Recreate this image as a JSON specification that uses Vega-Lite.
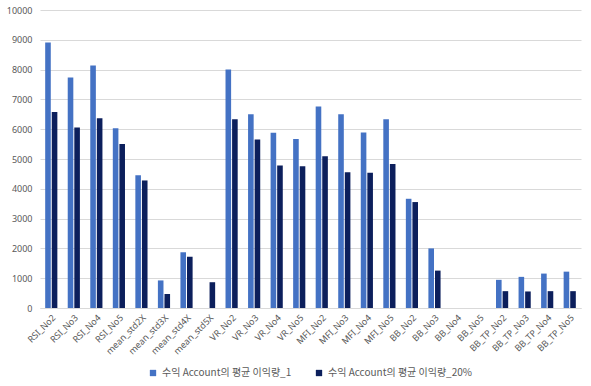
{
  "$schema": "https://vega.github.io/schema/vega-lite/v6.json",
  "width": 591,
  "height": 386,
  "autosize": {"type": "fit", "contains": "padding"},
  "padding": {"left": 6, "top": 6, "right": 10, "bottom": 8},
  "background": "#ffffff",
  "config": {
    "view": {"stroke": null},
    "font": "Noto Sans",
    "axis": {"labelColor": "#595959", "labelFontSize": 9, "labelFont": "Noto Sans"},
    "legend": {"layout": {"bottom": {"anchor": "middle"}}}
  },
  "data": {
    "values": [
      {"cat": "RSI_No2", "s": "수익 Account의 평균 이익량_1", "v": 8910},
      {"cat": "RSI_No2", "s": "수익 Account의 평균 이익량_20%", "v": 6580},
      {"cat": "RSI_No3", "s": "수익 Account의 평균 이익량_1", "v": 7735},
      {"cat": "RSI_No3", "s": "수익 Account의 평균 이익량_20%", "v": 6055},
      {"cat": "RSI_No4", "s": "수익 Account의 평균 이익량_1", "v": 8135},
      {"cat": "RSI_No4", "s": "수익 Account의 평균 이익량_20%", "v": 6365},
      {"cat": "RSI_No5", "s": "수익 Account의 평균 이익량_1", "v": 6035},
      {"cat": "RSI_No5", "s": "수익 Account의 평균 이익량_20%", "v": 5500},
      {"cat": "mean_std2X", "s": "수익 Account의 평균 이익량_1", "v": 4455},
      {"cat": "mean_std2X", "s": "수익 Account의 평균 이익량_20%", "v": 4280},
      {"cat": "mean_std3X", "s": "수익 Account의 평균 이익량_1", "v": 925},
      {"cat": "mean_std3X", "s": "수익 Account의 평균 이익량_20%", "v": 470},
      {"cat": "mean_std4X", "s": "수익 Account의 평균 이익량_1", "v": 1870},
      {"cat": "mean_std4X", "s": "수익 Account의 평균 이익량_20%", "v": 1720},
      {"cat": "mean_std5X", "s": "수익 Account의 평균 이익량_1", "v": 0},
      {"cat": "mean_std5X", "s": "수익 Account의 평균 이익량_20%", "v": 865},
      {"cat": "VR_No2", "s": "수익 Account의 평균 이익량_1", "v": 8000},
      {"cat": "VR_No2", "s": "수익 Account의 평균 이익량_20%", "v": 6335},
      {"cat": "VR_No3", "s": "수익 Account의 평균 이익량_1", "v": 6500},
      {"cat": "VR_No3", "s": "수익 Account의 평균 이익량_20%", "v": 5655},
      {"cat": "VR_No4", "s": "수익 Account의 평균 이익량_1", "v": 5880},
      {"cat": "VR_No4", "s": "수익 Account의 평균 이익량_20%", "v": 4780},
      {"cat": "VR_No5", "s": "수익 Account의 평균 이익량_1", "v": 5670},
      {"cat": "VR_No5", "s": "수익 Account의 평균 이익량_20%", "v": 4755},
      {"cat": "MFI_No2", "s": "수익 Account의 평균 이익량_1", "v": 6760},
      {"cat": "MFI_No2", "s": "수익 Account의 평균 이익량_20%", "v": 5090},
      {"cat": "MFI_No3", "s": "수익 Account의 평균 이익량_1", "v": 6500},
      {"cat": "MFI_No3", "s": "수익 Account의 평균 이익량_20%", "v": 4555},
      {"cat": "MFI_No4", "s": "수익 Account의 평균 이익량_1", "v": 5890},
      {"cat": "MFI_No4", "s": "수익 Account의 평균 이익량_20%", "v": 4535},
      {"cat": "MFI_No5", "s": "수익 Account의 평균 이익량_1", "v": 6335},
      {"cat": "MFI_No5", "s": "수익 Account의 평균 이익량_20%", "v": 4835},
      {"cat": "BB_No2", "s": "수익 Account의 평균 이익량_1", "v": 3665},
      {"cat": "BB_No2", "s": "수익 Account의 평균 이익량_20%", "v": 3555},
      {"cat": "BB_No3", "s": "수익 Account의 평균 이익량_1", "v": 2000},
      {"cat": "BB_No3", "s": "수익 Account의 평균 이익량_20%", "v": 1255},
      {"cat": "BB_No4", "s": "수익 Account의 평균 이익량_1", "v": 0},
      {"cat": "BB_No4", "s": "수익 Account의 평균 이익량_20%", "v": 0},
      {"cat": "BB_No5", "s": "수익 Account의 평균 이익량_1", "v": 0},
      {"cat": "BB_No5", "s": "수익 Account의 평균 이익량_20%", "v": 0},
      {"cat": "BB_TP_No2", "s": "수익 Account의 평균 이익량_1", "v": 945},
      {"cat": "BB_TP_No2", "s": "수익 Account의 평균 이익량_20%", "v": 565},
      {"cat": "BB_TP_No3", "s": "수익 Account의 평균 이익량_1", "v": 1045},
      {"cat": "BB_TP_No3", "s": "수익 Account의 평균 이익량_20%", "v": 555},
      {"cat": "BB_TP_No4", "s": "수익 Account의 평균 이익량_1", "v": 1155},
      {"cat": "BB_TP_No4", "s": "수익 Account의 평균 이익량_20%", "v": 565},
      {"cat": "BB_TP_No5", "s": "수익 Account의 평균 이익량_1", "v": 1220},
      {"cat": "BB_TP_No5", "s": "수익 Account의 평균 이익량_20%", "v": 565}
    ]
  },
  "mark": {"type": "bar"},
  "encoding": {
    "x": {
      "field": "cat",
      "type": "nominal",
      "sort": null,
      "title": null,
      "scale": {"paddingInner": 0.46, "paddingOuter": 0.23},
      "axis": {"labelAngle": -45, "ticks": false, "domain": true, "domainColor": "#d9d9d9", "labelPadding": 5}
    },
    "xOffset": {"field": "s", "type": "nominal", "scale": {"paddingInner": 0.15}},
    "y": {
      "field": "v",
      "type": "quantitative",
      "title": null,
      "scale": {"domain": [0, 10000], "nice": false},
      "axis": {"values": [0,1000,2000,3000,4000,5000,6000,7000,8000,9000,10000], "format": "d", "ticks": false, "domain": false, "gridColor": "#d9d9d9", "labelPadding": 8}
    },
    "color": {
      "field": "s",
      "type": "nominal",
      "scale": {"range": ["#4472c4", "#0c1f5c"]},
      "legend": {
        "orient": "bottom",
        "direction": "horizontal",
        "title": null,
        "symbolType": "square",
        "symbolSize": 40,
        "labelFont": "Noto Sans CJK KR",
        "labelFontSize": 10,
        "labelColor": "#595959",
        "columnPadding": 22,
        "padding": 0,
        "offset": 12
      }
    }
  }
}
